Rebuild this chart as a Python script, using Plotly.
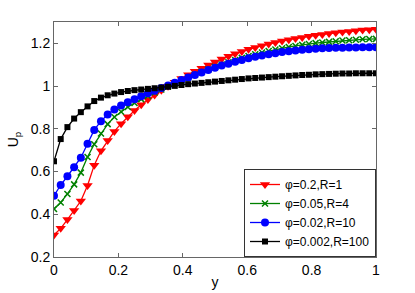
import plotly.graph_objects as go

y_pos = [i / 48 for i in range(49)]

up_red = [0.303, 0.334, 0.375, 0.418, 0.462, 0.535, 0.630, 0.697, 0.745, 0.788, 0.824, 0.857,
          0.886, 0.913, 0.937, 0.958, 0.980, 0.999, 1.018, 1.036, 1.053, 1.069, 1.084, 1.099,
          1.113, 1.127, 1.140, 1.151, 1.162, 1.172, 1.181, 1.189, 1.197, 1.204, 1.211, 1.217,
          1.223, 1.228, 1.233, 1.238, 1.242, 1.246, 1.250, 1.253, 1.256, 1.259, 1.262, 1.264, 1.266]

up_green = [0.425, 0.455, 0.495, 0.540, 0.595, 0.668, 0.728, 0.778, 0.822, 0.855, 0.880, 0.902,
            0.921, 0.939, 0.954, 0.970, 0.984, 0.998, 1.012, 1.026, 1.040, 1.053, 1.066, 1.078,
            1.090, 1.101, 1.112, 1.122, 1.132, 1.141, 1.149, 1.157, 1.164, 1.171, 1.177, 1.183,
            1.188, 1.193, 1.197, 1.201, 1.204, 1.207, 1.210, 1.213, 1.215, 1.217, 1.219, 1.220, 1.221]

up_blue = [0.487, 0.537, 0.578, 0.620, 0.665, 0.730, 0.795, 0.836, 0.867, 0.891, 0.909, 0.924,
           0.938, 0.953, 0.966, 0.978, 0.991, 1.003, 1.016, 1.028, 1.040, 1.052, 1.064, 1.075,
           1.086, 1.096, 1.105, 1.114, 1.122, 1.130, 1.137, 1.143, 1.149, 1.154, 1.159, 1.163,
           1.167, 1.170, 1.173, 1.175, 1.177, 1.178, 1.179, 1.180, 1.181, 1.181, 1.182, 1.182, 1.182]

up_black = [0.648, 0.752, 0.808, 0.848, 0.878, 0.905, 0.930, 0.946, 0.957, 0.965, 0.972, 0.977,
            0.981, 0.984, 0.987, 0.990, 0.993, 0.997, 1.001, 1.005, 1.009, 1.012, 1.015, 1.018,
            1.021, 1.024, 1.027, 1.030, 1.033, 1.036, 1.038, 1.040, 1.042, 1.044, 1.046, 1.048,
            1.050, 1.052, 1.053, 1.055, 1.056, 1.057, 1.058, 1.059, 1.059, 1.060, 1.060, 1.060, 1.060]

series_names = ["φ=0.2,R=1", "φ=0.05,R=4", "φ=0.02,R=10", "φ=0.002,R=100"]
x_ticks = [0, 0.2, 0.4, 0.6, 0.8, 1]
x_tick_labels = ["0", "0.2", "0.4", "0.6", "0.8", "1"]
y_ticks = [0.2, 0.4, 0.6, 0.8, 1.0, 1.2]
y_tick_labels = ["0.2", "0.4", "0.6", "0.8", "1", "1.2"]

styles = [
    ("#ff0000", "triangle-down", 9),
    ("#008000", "x-thin", 6),
    ("#0000ff", "circle", 8),
    ("#000000", "square", 6),
]

FONT = "Liberation Sans, Arial, sans-serif"

fig = go.Figure()
for vals, name, (color, sym, size) in zip([up_red, up_green, up_blue, up_black], series_names, styles):
    marker = dict(symbol=sym, size=size, color=color)
    if sym == "x-thin":
        marker["line"] = dict(color=color, width=1.5)
    fig.add_trace(go.Scatter(
        x=y_pos, y=vals, mode="lines+markers", name=name,
        line=dict(color=color, width=1.3), marker=marker,
    ))

axis_common = dict(
    showgrid=False, zeroline=False, showline=True, linecolor="#666666", linewidth=1,
    mirror="ticks", ticks="inside", ticklen=4, tickcolor="#666666", automargin=False,
    tickfont=dict(family=FONT, size=14, color="#000000"),
)

fig.update_layout(
    width=415, height=293,
    margin=dict(l=54, r=39, t=22, b=36),
    paper_bgcolor="white", plot_bgcolor="white",
    font=dict(family=FONT, size=14, color="#000000"),
    xaxis=dict(range=[0, 1], tickvals=x_ticks, ticktext=x_tick_labels,
               title=dict(text="y", standoff=0, font=dict(size=14)), **axis_common),
    yaxis=dict(range=[0.2, 1.3], tickvals=y_ticks, ticktext=y_tick_labels,
               title=dict(text="U<sub>p</sub>", standoff=8, font=dict(size=14)), **axis_common),
    legend=dict(x=1, y=0, xanchor="right", yanchor="bottom",
                bgcolor="white", bordercolor="#333333", borderwidth=1,
                font=dict(size=12), tracegroupgap=0, itemwidth=30),
    showlegend=True,
)

fig.write_html("out.html", config={"displayModeBar": False},
               post_script="document.body.style.margin='0';document.body.style.padding='0';")
